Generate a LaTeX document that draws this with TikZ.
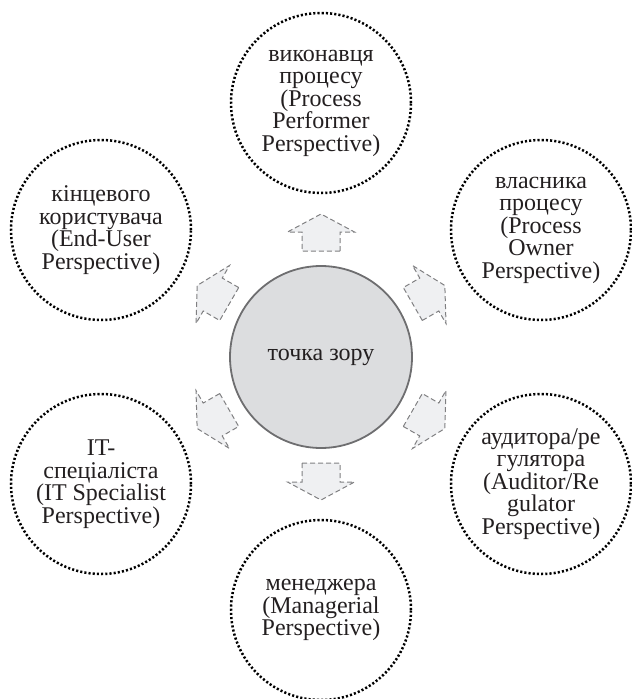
\documentclass[tikz,border=0pt]{standalone}
\usepackage{fontspec}
\setmainfont{Liberation Serif}
\definecolor{txt}{HTML}{231F20}
\definecolor{rimgray}{HTML}{6E6E70}
\definecolor{coregray}{HTML}{DCDDDF}
\definecolor{dashgray}{HTML}{808082}
\definecolor{arrowfill}{HTML}{EFF0F2}
\begin{document}
\begin{tikzpicture}[x=1pt,y=1pt,
  persp/.style={circle, draw=black, line width=2.5pt, dash pattern=on 2.1pt off 2.1pt,
    minimum size=180pt, inner sep=0pt, align=center,
    font=\fontsize{24}{22.5}\selectfont, text=txt},
  core/.style={circle, draw=rimgray, fill=coregray, line width=1.8pt,
    minimum size=182pt, inner sep=0pt, font=\fontsize{24}{22.5}\selectfont, text=txt},
  blockarrow/.style={draw=dashgray, fill=arrowfill, line width=1pt,
    dash pattern=on 5pt off 3pt, line join=miter}
]
\useasboundingbox (0,0) rectangle (632,-699);

% central concept
\node[core] (c) at (321,-357) {точка зору};

% six perspectives arranged on a hexagon around it
\node[persp] (perf)    at (321,-103) {виконавця\\процесу\\(Process\\Performer\\Perspective)};
\node[persp] (owner)   at (541,-230) {власника\\процесу\\(Process\\Owner\\Perspective)};
\node[persp] (audit)   at (541,-484) {аудитора/ре\\гулятора\\(Auditor/Re\\gulator\\Perspective)};
\node[persp] (mgr)     at (321,-610) {менеджера\\(Managerial\\Perspective)};
\node[persp] (itspec)  at (101,-484) {IT-\\спеціаліста\\(IT Specialist\\Perspective)};
\node[persp] (enduser) at (101,-230) {кінцевого\\користувача\\(End-User\\Perspective)};

% dashed block arrows pointing outward from the centre
\foreach \a in {90,30,-30,-90,-150,150}
  \draw[blockarrow, shift={(c.center)}, rotate=\a]
    (106,-19) -- (125,-19) -- (125,-33.5) -- (143,0) -- (125,33.5)
    -- (125,19) -- (106,19) -- cycle;
\end{tikzpicture}
\end{document}
